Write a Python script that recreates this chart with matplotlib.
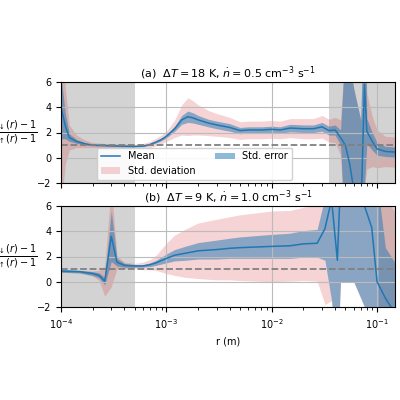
import numpy as np
import matplotlib
matplotlib.use("Agg")
import matplotlib.pyplot as plt

r_a = [1.0e-4,1.1e-4,1.2e-4,1.4e-4,1.7e-4,2e-4,3e-4,4e-4,5e-4,6e-4,7e-4,8e-4,9e-4,1.0e-3,1.2e-3,1.4e-3,1.6e-3,1.8e-3,2.0e-3,2.5e-3,3e-3,4e-3,5e-3,6e-3,8e-3,1e-2,1.2e-2,1.5e-2,2e-2,2.5e-2,3e-2,3.5e-2,4e-2,4.5e-2,5e-2,5.5e-2,6e-2,7e-2,7.6e-2,8e-2,9e-2,1.0e-1,1.2e-1,1.48e-1]
mean_a = [4.0,2.5,1.6,1.3,1.1,1.0,0.95,0.92,0.9,0.92,1.05,1.25,1.45,1.7,2.3,3.0,3.25,3.15,3.0,2.75,2.6,2.4,2.15,2.2,2.2,2.25,2.2,2.35,2.3,2.3,2.45,2.15,2.2,1.6,1.0,-0.5,-2.5,-5.0,5.8,2.1,1.3,0.7,0.5,0.45]
err_a = [2.5,1.0,0.3,0.15,0.08,0.05,0.04,0.04,0.04,0.04,0.05,0.08,0.1,0.12,0.2,0.35,0.45,0.4,0.35,0.3,0.3,0.3,0.25,0.25,0.25,0.25,0.25,0.3,0.3,0.3,0.35,0.35,0.4,0.6,8,8,8,8,8,1.0,0.7,0.5,0.4,0.4]
sd_a = [8,3,1,0.5,0.3,0.2,0.15,0.15,0.15,0.2,0.25,0.3,0.35,0.4,0.7,1.2,1.5,1.35,1.2,1.0,0.9,0.8,0.7,0.7,0.7,0.7,0.7,0.75,0.8,0.8,0.9,0.9,1.0,1.4,8,8,8,8,8,3.0,2.0,1.5,1.2,1.2]

r_b = [1e-4,1.5e-4,2e-4,2.3e-4,2.6e-4,3.0e-4,3.4e-4,4e-4,5e-4,6e-4,7e-4,8e-4,1e-3,1.2e-3,1.5e-3,2e-3,3e-3,4e-3,5e-3,7e-3,1e-2,1.5e-2,2e-2,2.7e-2,3.2e-2,3.7e-2,4.2e-2,4.5e-2,6e-2,7.6e-2,8.9e-2,1.0e-1,1.2e-1,1.48e-1]
mean_b = [0.85,0.8,0.65,0.5,0.05,3.6,1.55,1.3,1.25,1.25,1.35,1.5,1.85,2.1,2.25,2.45,2.55,2.65,2.7,2.75,2.8,2.85,3.0,3.05,4.2,6.5,1.7,8.0,8.0,6.0,4.3,0.0,-1.3,-2.5]
err_b = [0.1,0.1,0.15,0.2,0.3,2.0,0.3,0.15,0.1,0.1,0.15,0.2,0.35,0.45,0.55,0.65,0.75,0.8,0.85,0.9,0.95,1.0,1.05,1.1,2.5,8,8,8,8,8,8,8,4,4]
sd_b = [0.1,0.1,0.2,0.4,1.2,4.0,0.5,0.25,0.2,0.3,0.4,0.6,1.2,1.6,1.9,2.2,2.4,2.5,2.6,2.7,2.8,2.8,2.9,3.0,6,8,8,8,8,8,8,8,8,8]

titles = [r"(a)  $\Delta T = 18$ K, $\dot{n} = 0.5$ cm$^{-3}$ s$^{-1}$",
          r"(b)  $\Delta T = 9$ K, $\dot{n} = 1.0$ cm$^{-3}$ s$^{-1}$"]

fig = plt.figure(figsize=(4, 4), dpi=100)
ax1 = fig.add_axes([61/400, 1-183/400, 334/400, 101/400])
ax2 = fig.add_axes([61/400, 1-307/400, 334/400, 101/400])
xmax = 0.148
shades = [[(1e-4, 5e-4), (3.5e-2, xmax)], [(1e-4, 5e-4), (0.105, xmax)]]
data = [(r_a, mean_a, err_a, sd_a), (r_b, mean_b, err_b, sd_b)]
for i, ax in enumerate([ax1, ax2]):
    r, m, e, s = [np.array(v) for v in data[i]]
    for a, b in shades[i]:
        ax.axvspan(a, b, color="#d3d3d3", lw=0, zorder=0)
    ax.fill_between(r, m - s, m + s, color="tab:red", alpha=0.2, lw=0, label="Std. deviation")
    ax.fill_between(r, m - e, m + e, color="tab:blue", alpha=0.5, lw=0, label="Std. error")
    ax.plot(r, m, color="tab:blue", lw=1.1, label="Mean")
    ax.axhline(1, color="gray", ls="--", lw=1.3)
    ax.set_xscale("log")
    ax.set_xlim(1e-4, xmax)
    ax.set_ylim(-2, 6)
    ax.set_yticks([-2, 0, 2, 4, 6])
    ax.grid(True, which="major", color="#bbbbbb", lw=0.8)
    ax.set_title(titles[i], fontsize=8, pad=3)
    ax.set_ylabel(r"$\frac{g_\downarrow(r)-1}{g_\uparrow(r)-1}$", rotation=0, fontsize=10, va="center", ha="center")
    ax.yaxis.set_label_coords(-0.14, 0.5)
    ax.tick_params(labelsize=7)
ax1.tick_params(labelbottom=False)
ax2.set_xlabel("r (m)", fontsize=7)
h, l = ax1.get_legend_handles_labels()
order = [2, 0, 1]
ax1.legend([h[k] for k in order], [l[k] for k in order], ncol=2, fontsize=7,
           loc="lower center", bbox_to_anchor=(0.4, -0.02), framealpha=0.9)
fig.savefig("out.png", dpi=100)
